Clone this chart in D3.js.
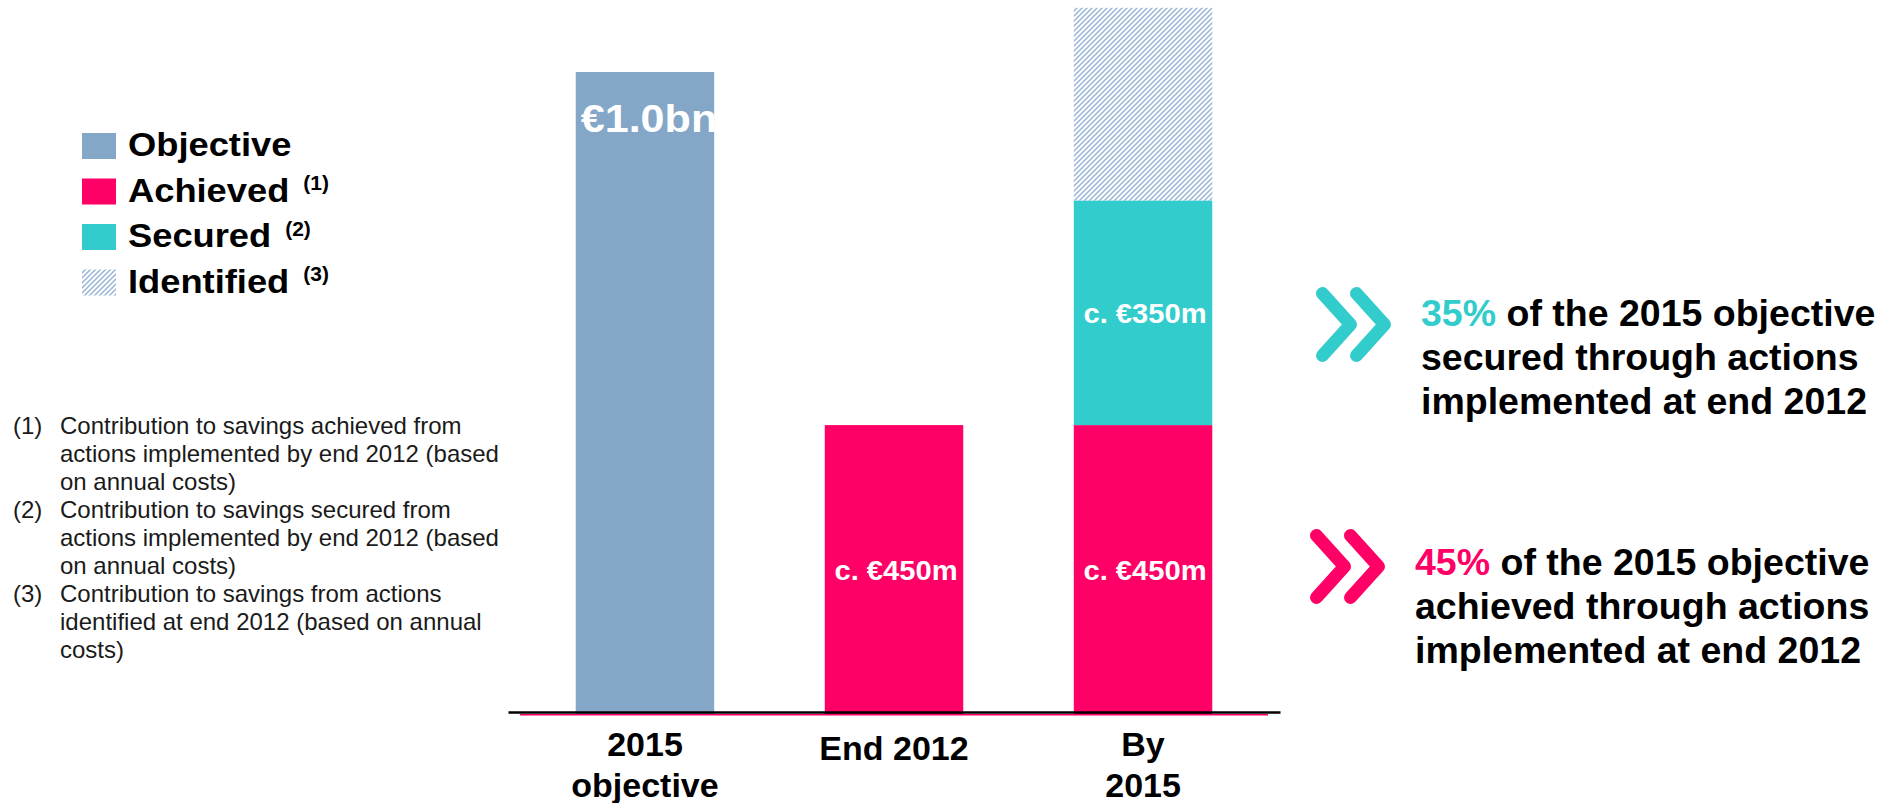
<!DOCTYPE html>
<html>
<head>
<meta charset="utf-8">
<script src="https://cdn.jsdelivr.net/npm/d3@7"></script>
<style>
  html, body { margin: 0; padding: 0; background: #ffffff; }
  svg { display: block; font-family: "Liberation Sans", Arial, Helvetica, sans-serif; }
</style>
</head>
<body>
<svg id="chart" width="1899" height="803"></svg>
<script>
// ---- Data (EUR million) ----
const categoryKeys = ["2015 objective", "End 2012", "By 2015"];
const categoryLines = [["2015", "objective"], ["End 2012"], ["By", "2015"]];
const objective  = [1000, 0, 0];
const achieved   = [0, 450, 450];
const secured    = [0, 0, 350];
const identified = [0, 0, 300];

const seriesKeys  = ["objective", "achieved", "secured", "identified"];
const seriesNames = ["Objective", "Achieved", "Secured", "Identified"];
const seriesNotes = ["", "(1)", "(2)", "(3)"];

const footnoteMarks = ["(1)", "(2)", "(3)"];
const footnoteLines = [
  ["Contribution to savings achieved from", "actions implemented by end 2012 (based", "on annual costs)"],
  ["Contribution to savings secured from", "actions implemented by end 2012 (based", "on annual costs)"],
  ["Contribution to savings from actions", "identified at end 2012 (based on annual", "costs)"]
];

const calloutLinesSecured  = ["of the 2015 objective", "secured through actions", "implemented at end 2012"];
const calloutLinesAchieved = ["of the 2015 objective", "achieved through actions", "implemented at end 2012"];

// ---- Styling ----
const colours = {
  objective: "#84a7c8",
  achieved: "#ff0066",
  secured: "#33cccc",
  identified: "url(#hatch)"
};

const svg = d3.select("#chart");
const defs = svg.append("defs");

// Diagonal hatch for the "identified" portion
const hatch = defs.append("pattern")
  .attr("id", "hatch")
  .attr("patternUnits", "userSpaceOnUse")
  .attr("width", 5).attr("height", 5);
hatch.append("rect").attr("width", 5).attr("height", 5).attr("fill", "#ffffff");
hatch.append("path")
  .attr("d", "M-1,1L1,-1M0,5L5,0M4,6L6,4")
  .attr("stroke", "#98b5d6").attr("stroke-width", 1.5);

// Text widened horizontally (glyphs scaled, not spaced)
function wideText(parent, px, py, k, str, size, anchor) {
  const t = parent.append("text")
    .attr("transform", `translate(${px},${py}) scale(${k},1)`)
    .attr("font-size", size)
    .attr("text-anchor", anchor || "start")
    .text(str);
  return { sel: t, width: t.node().getComputedTextLength() * k };
}

// ---- Scales ----
const x = d3.scaleBand()
  .domain(categoryKeys)
  .range([508, 1280])
  .paddingInner(0.444)
  .paddingOuter(0.272);

const y = d3.scaleLinear().domain([0, 1000]).range([714, 72]);

const table = categoryKeys.map((k, i) => ({
  key: k,
  objective: objective[i],
  achieved: achieved[i],
  secured: secured[i],
  identified: identified[i]
}));

const stacked = d3.stack().keys(seriesKeys)(table);

// ---- Bars ----
const barG = svg.append("g");
stacked.forEach(layer => {
  barG.selectAll(null)
    .data(layer.filter(d => d[1] > d[0]))
    .join("rect")
    .attr("x", d => x(d.data.key))
    .attr("width", x.bandwidth())
    .attr("y", d => y(d[1]))
    .attr("height", d => y(d[0]) - y(d[1]))
    .attr("fill", colours[layer.key]);
});

// ---- Value labels ----
const fmtBn = v => "€" + d3.format(".1f")(v / 1000) + "bn";
const fmtM = v => "c. €" + v + "m";
const labelG = svg.append("g").attr("fill", "#ffffff").attr("font-weight", "bold");

stacked.forEach(layer => {
  layer.filter(d => d[1] > d[0]).forEach(d => {
    const cx = x(d.data.key) + x.bandwidth() / 2;
    const v = d[1] - d[0];
    if (layer.key === "objective") {
      wideText(labelG, cx + 4, y(d[1]) + 60, 1.12, fmtBn(v), 38.5, "middle");
    } else if (layer.key === "achieved" || layer.key === "secured") {
      wideText(labelG, cx + 2, (y(d[0]) + y(d[1])) / 2 + 10.5, 1.06, fmtM(v), 27.5, "middle");
    }
  });
});

// ---- Baseline and category axis ----
svg.append("line")
  .attr("x1", 520).attr("x2", 1268)
  .attr("y1", y(0) + 0.8).attr("y2", y(0) + 0.8)
  .attr("stroke", "#ff0066").attr("stroke-width", 1.5);

const axis = svg.append("g")
  .attr("transform", `translate(0,${y(0) - 2})`)
  .call(d3.axisBottom(x).tickSize(0).tickSizeOuter(0));
axis.select(".domain").attr("stroke", "#000").attr("stroke-width", 2.5);
axis.selectAll(".tick text").each(function(k) {
  const lines = categoryLines[categoryKeys.indexOf(k)];
  const t = d3.select(this)
    .attr("y", null).attr("dy", null)
    .attr("fill", "#000")
    .attr("font-size", 34).attr("font-weight", "bold")
    .attr("font-family", "\"Liberation Sans\", Arial, sans-serif")
    .text(null);
  lines.forEach((ln, j) => {
    t.append("tspan")
      .attr("x", 0)
      .attr("y", lines.length === 1 ? 48 : 44 + j * 41)
      .text(ln);
  });
});

// ---- Legend ----
const legendG = svg.append("g").attr("font-weight", "bold").attr("fill", "#000");
seriesNames.forEach((name, i) => {
  const top = 133 + i * 45.5;
  legendG.append("rect")
    .attr("x", 82).attr("y", top)
    .attr("width", 34).attr("height", 26)
    .attr("fill", colours[seriesKeys[i]]);
  const t = wideText(legendG, 128, top + 23, 1.1, name, 33);
  if (seriesNotes[i]) {
    wideText(legendG, 128 + t.width + 14, top + 11.5, 1.05, seriesNotes[i], 20);
  }
});

// ---- Footnotes ----
const noteG = svg.append("g").attr("font-size", 24).attr("fill", "#1a1a1a");
let row = 0;
footnoteLines.forEach((lines, i) => {
  lines.forEach((ln, j) => {
    const yy = 433.5 + row * 28;
    if (j === 0) noteG.append("text").attr("x", 13).attr("y", yy).text(footnoteMarks[i]);
    noteG.append("text").attr("x", 60).attr("y", yy).text(ln);
    row++;
  });
});

// ---- Callouts ----
const pct = d3.format(".0%");
const callouts = [
  { share: secured[2] / objective[0], colour: colours.secured, lines: calloutLinesSecured,
    chevX: 1316, chevY: 287, textX: 1421, baseY: 326 },
  { share: achieved[2] / objective[0], colour: colours.achieved, lines: calloutLinesAchieved,
    chevX: 1310, chevY: 529, textX: 1415, baseY: 575 }
];

const chevron = "M6.5,6.5L34.5,37.5L6.5,68.5M40.5,6.5L68.5,37.5L40.5,68.5";
callouts.forEach(c => {
  svg.append("path")
    .attr("transform", `translate(${c.chevX},${c.chevY})`)
    .attr("d", chevron)
    .attr("fill", "none").attr("stroke", c.colour)
    .attr("stroke-width", 13)
    .attr("stroke-linecap", "round").attr("stroke-linejoin", "round");

  const g = svg.append("g").attr("font-weight", "bold").attr("font-size", 37.5).attr("fill", "#000");
  c.lines.forEach((ln, j) => {
    const t = g.append("text").attr("x", c.textX).attr("y", c.baseY + j * 44);
    if (j === 0) {
      t.append("tspan").attr("fill", c.colour).text(pct(c.share));
      t.append("tspan").text(" " + ln);
    } else {
      t.text(ln);
    }
  });
});
</script>
</body>
</html>
